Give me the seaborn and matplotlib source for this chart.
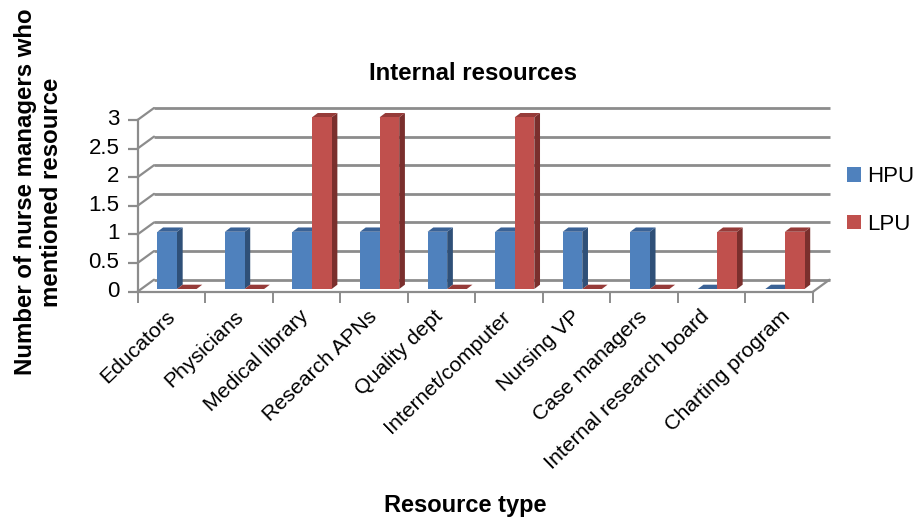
# Internal resources chart, 3D look built on a seaborn bar plot
import numpy as np
import pandas as pd
import seaborn as sns
import matplotlib.pyplot as plt
from matplotlib.patches import Polygon
from matplotlib.transforms import ScaledTranslation

# ---- data ----
resources = ['Educators', 'Physicians', 'Medical library', 'Research APNs', 'Quality dept',
             'Internet/computer', 'Nursing VP', 'Case managers', 'Internal research board',
             'Charting program']
hpu = [1, 1, 1, 1, 1, 1, 1, 1, 0, 0]
lpu = [0, 0, 3, 3, 0, 3, 0, 0, 1, 1]
y_ticks = [0, 0.5, 1, 1.5, 2, 2.5, 3]
y_tick_labels = ['0', '0.5', '1', '1.5', '2', '2.5', '3']

front_colors = {'HPU': '#4F81BD', 'LPU': '#C0504D'}
side_colors = {'HPU': '#2F5078', 'LPU': '#7A2F2D'}
top_colors = {'HPU': '#3A6296', 'LPU': '#963B39'}
grid_color = '#8C8C8C'

df = pd.DataFrame({'resource': resources * 2,
                   'group': ['HPU'] * len(hpu) + ['LPU'] * len(lpu),
                   'count': hpu + lpu})

sns.set_style('white')
plt.rcParams['font.family'] = ['Liberation Sans', 'DejaVu Sans']
plt.rcParams['text.color'] = 'black'

W, H = 913, 521
fig = plt.figure(figsize=(W / 100, H / 100), dpi=100)
left, right, bottom, top = 137.5, 813, 291.7, 120
ax = fig.add_axes([left / W, 1 - bottom / H, (right - left) / W, (bottom - top) / H])

sns.barplot(data=df, x='resource', y='count', hue='group', hue_order=['HPU', 'LPU'],
            palette=front_colors, width=0.58, gap=0, linewidth=0, saturation=1, errorbar=None,
            zorder=5, ax=ax)
ax.set_xlim(-0.5, 9.5)
ax.set_ylim(0, 3)

# pixel -> data helpers
px = 10 / (right - left)
py = 3 / (bottom - top)
wall_dx, wall_dy = 16.5 * px, 12 * py

# back wall gridlines and the diagonals that join them to the front axis
for v in y_ticks:
    ax.plot([-0.5 + wall_dx, 9.5 + wall_dx], [v + wall_dy, v + wall_dy], color=grid_color,
            lw=2, clip_on=False, zorder=1, solid_capstyle='butt')
    ax.plot([-0.5, -0.5 + wall_dx], [v, v + wall_dy], color=grid_color, lw=1.6,
            clip_on=False, zorder=1)
ax.plot([9.5, 9.5 + wall_dx], [0, wall_dy], color=grid_color, lw=1.6, clip_on=False, zorder=1)

# shift each bar onto the floor and add its side and top faces
shift_x, shift_y = 5.7 * px, 2.7 * py
depth_x, depth_y = 5.7 * px, 4.3 * py
for container, group in zip(ax.containers, ['HPU', 'LPU']):
    for bar in container:
        bar.set_x(bar.get_x() + shift_x)
        bar.set_y(bar.get_y() + shift_y)
        x0, y0 = bar.get_x(), bar.get_y()
        x1, y1 = x0 + bar.get_width(), y0 + bar.get_height()
        ax.add_patch(Polygon([(x1, y0), (x1 + depth_x, y0 + depth_y), (x1 + depth_x, y1 + depth_y), (x1, y1)],
                             fc=side_colors[group], lw=0, zorder=3, clip_on=False))
        ax.add_patch(Polygon([(x0, y1), (x0 + depth_x, y1 + depth_y), (x1 + depth_x, y1 + depth_y), (x1, y1)],
                             fc=top_colors[group], lw=0, zorder=4, clip_on=False))
        bar.set_clip_on(False)

# axes and ticks
sns.despine(ax=ax, top=True, right=True)
for side in ['left', 'bottom']:
    ax.spines[side].set_color(grid_color)
    ax.spines[side].set_linewidth(1.6)
ax.set_yticks(y_ticks, y_tick_labels, fontsize=16)
ax.tick_params(axis='y', left=True, length=7, width=1.6, color=grid_color, pad=6, labelcolor='black')
ax.set_xticks(range(len(resources)), resources, rotation=44, ha='right', rotation_mode='anchor', fontsize=15.3)
ax.tick_params(axis='x', which='major', bottom=False, length=0, pad=11, labelcolor='black')
ax.set_xticks(np.arange(-0.5, 10), minor=True)
ax.tick_params(axis='x', which='minor', bottom=True, length=8, width=1.4, color=grid_color)

# nudge tick labels by a few pixels
up = ScaledTranslation(0, 3 / 100, fig.dpi_scale_trans)
for lab in ax.get_yticklabels():
    lab.set_transform(lab.get_transform() + up)
label_nudge = [-6, -5.2, -7.4, -6.6, -7.8, -8, -5.2, -6.4, -11.6, 1.2]
for lab, nudge in zip(ax.get_xticklabels(), label_nudge):
    lab.set_transform(lab.get_transform() + ScaledTranslation(nudge / 100, 0, fig.dpi_scale_trans))

# text
ax.set_title('Internal resources', fontsize=17.3, fontweight='bold', x=0.4967, y=1.185, color='black')
ax.set_xlabel('Resource type', fontsize=17, fontweight='bold', color='black')
ax.xaxis.set_label_coords((465 - left) / (right - left), -1.178)
ax.set_ylabel('Number of nurse managers who\nmentioned resource', fontsize=17.3, fontweight='bold',
              linespacing=1.15, color='black')
ax.yaxis.set_label_coords((63 - left) / (right - left), (bottom - 192) / (bottom - top))

# legend
sns.move_legend(ax, 'upper left', bbox_to_anchor=(847 / W, 1 - 166 / H),
                bbox_transform=fig.transFigure, title=None, frameon=False, fontsize=16,
                handlelength=0.64, handleheight=0.64, handletextpad=0.27, labelspacing=1.2,
                borderpad=0, borderaxespad=0)

fig.savefig('out.png', dpi=100)
